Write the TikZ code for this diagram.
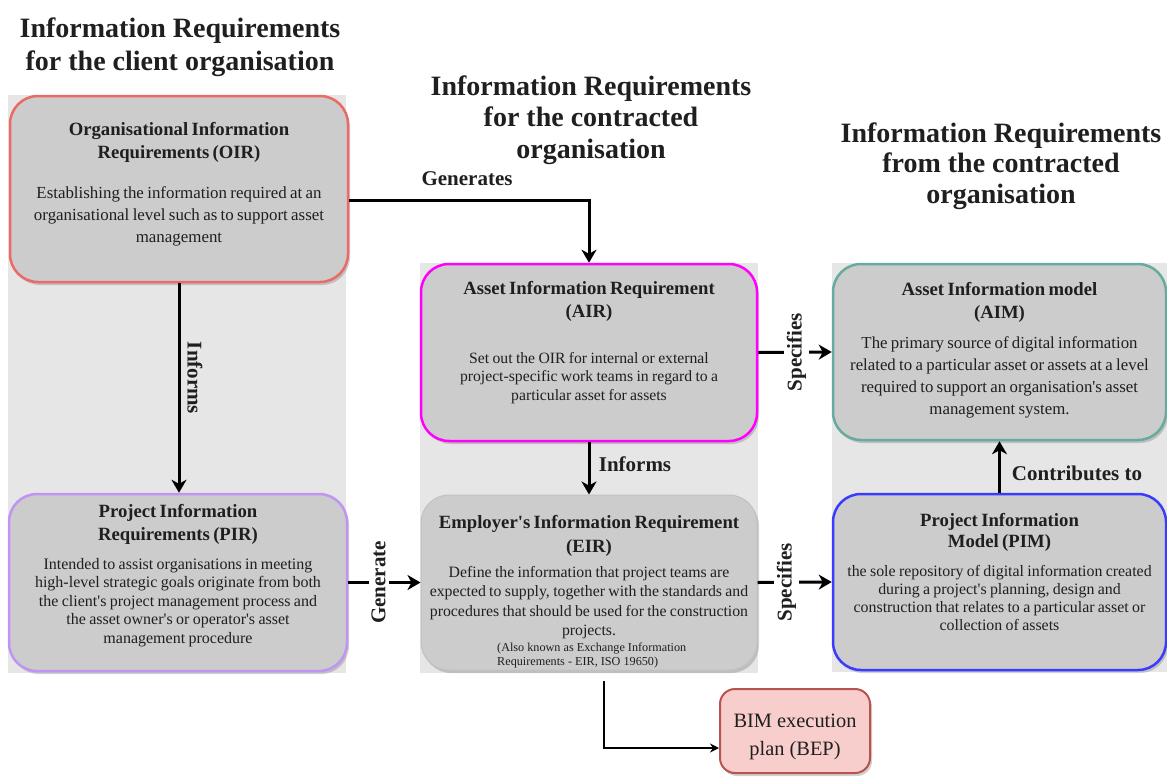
\documentclass[tikz,border=0pt]{standalone}
\usepackage{fontspec}
\setmainfont{Liberation Serif}
\usetikzlibrary{arrows.meta,shadows}

\definecolor{colbg}{HTML}{E6E6E6}
\definecolor{boxfill}{HTML}{CCCCCC}
\definecolor{oirline}{HTML}{EA6B66}
\definecolor{pirline}{HTML}{BF94F2}
\definecolor{airline}{HTML}{FF00FF}
\definecolor{aimline}{HTML}{67AB9F}
\definecolor{pimline}{HTML}{3B3BFF}
\definecolor{eirline}{HTML}{C2C2C2}
\definecolor{bepfill}{HTML}{F8CECC}
\definecolor{bepline}{HTML}{B85450}
\definecolor{ink}{HTML}{1F1F1F}

\newcommand\aps{\textquotesingle}
\newcommand\boxtitle[2]{{\fontsize{18.7}{#1}\selectfont\bfseries #2\par}}
\newcommand\boxbody[4]{\par\vspace{#1}{\fontsize{#2}{#3}\selectfont #4\par}}

\tikzset{
  infobox/.style={rectangle, rounded corners=28pt, fill=boxfill, line width=2.5pt,
    inner sep=0pt,
    drop shadow={shadow xshift=2pt, shadow yshift=-3pt, opacity=0.3, fill=black!60}},
  boxtext/.style={anchor=north, inner sep=0pt, text width=#1, align=center, text=ink},
  heading/.style={anchor=north, inner sep=0pt, align=center, text=ink,
    font=\fontsize{28}{#1}\selectfont\bfseries},
  flow/.style={line width=3pt, -{Stealth[length=13pt,width=15pt,inset=4pt]}},
  thinflow/.style={line width=1.5pt, -{Stealth[length=9pt,width=9pt,inset=3pt]}},
  edgelabel/.style={font=\fontsize{21}{24}\selectfont\bfseries, text=ink, inner sep=0pt},
  gaplabel/.style={font=\fontsize{21}{24}\selectfont\bfseries, text=ink,
    fill=white, inner sep=3pt, rotate=90},
}

\begin{document}
\begin{tikzpicture}[x=1pt, y=-1pt]
\useasboundingbox (0,0) rectangle (1167,777);

% column backgrounds
\fill[colbg] (8,95) rectangle (346,673);
\fill[colbg] (420,263) rectangle (758,673);
\fill[colbg] (832,263) rectangle (1167,672);

% column headings
\node[heading=33] (hclient) at (180,17.5)
  {Information Requirements\\for the client organisation};
\node[heading=31.5] (hcontracted) at (591,75.5)
  {Information Requirements\\for the contracted\\organisation};
\node[heading=30.5] (hfrom) at (1001,122.5)
  {Information Requirements\\from the contracted\\organisation};

% boxes
\node[infobox, draw=oirline, minimum width=338pt, minimum height=186pt] (oir) at (179,189) {};
\node[infobox, draw=pirline, minimum width=338pt, minimum height=177pt] (pir) at (178,582.5) {};
\node[infobox, draw=airline, minimum width=336pt, minimum height=177pt] (air) at (589,352.5) {};
\node[infobox, draw=eirline, line width=1pt, minimum width=336pt, minimum height=175pt] (eir) at (589,582.5) {};
\node[infobox, draw=aimline, minimum width=333pt, minimum height=176pt] (aim) at (999.5,352) {};
\node[infobox, draw=pimline, minimum width=333pt, minimum height=176pt] (pim) at (999.5,582) {};
\node[rectangle, rounded corners=15pt, fill=bepfill, draw=bepline, line width=2pt,
  minimum width=150pt, minimum height=84pt,
  drop shadow={shadow xshift=2pt, shadow yshift=-3pt, opacity=0.3, fill=black!60}]
  (bep) at (795,731) {};
\node[align=center, text=ink, inner sep=0pt, font=\fontsize{20.4}{28}\selectfont]
  (beptext) at (795,737) {BIM execution\\plan (BEP)};

% box texts
\node[boxtext=336pt] (oirtext) at (179,122) {%
  \boxtitle{23}{Organisational Information\\Requirements (OIR)}%
  \boxbody{18pt}{16.9}{22}{Establishing the information required at an\\organisational level such as to support asset\\management}};
\node[boxtext=336pt] (pirtext) at (178,504) {%
  \boxtitle{23}{Project Information\\Requirements (PIR)}%
  \boxbody{10.5pt}{16}{18.5}{Intended to assist organisations in meeting\\high-level strategic goals originate from both\\the client\aps s project management process and\\the asset owner\aps s or operator\aps s asset\\management procedure}};
\node[boxtext=334pt] (airtext) at (589,281) {%
  \boxtitle{23}{Asset Information Requirement\\(AIR)}%
  \boxbody{27.5pt}{15.7}{18.5}{Set out the OIR for internal or external\\project-specific work teams in regard to a\\particular asset for assets}};
\node[boxtext=334pt] (eirtext) at (589,515) {%
  \boxtitle{24}{Employer\aps s Information Requirement\\(EIR)}%
  \boxbody{5.5pt}{15.8}{19.5}{Define the information that project teams are\\expected to supply, together with the standards and\\procedures that should be used for the construction\\projects.}};
\node[anchor=north west, inner sep=0pt, align=left, text=ink,
  font=\fontsize{12.2}{14}\selectfont] (eirnote) at (497,643)
  {(Also known as Exchange Information\\Requirements - EIR, ISO 19650)};
\node[boxtext=330pt] (aimtext) at (999.5,282) {%
  \boxtitle{23}{Asset Information model\\(AIM)}%
  \boxbody{8pt}{16.8}{22}{The primary source of digital information\\related to a particular asset or assets at a level\\required to support an organisation\aps s asset\\management system.}};
\node[boxtext=330pt] (pimtext) at (999.5,513) {%
  \boxtitle{21}{Project Information\\Model (PIM)}%
  \boxbody{11pt}{15.9}{18}{the sole repository of digital information created\\during a project\aps s planning, design and\\construction that relates to a particular asset or\\collection of assets}};

% connectors
\draw[flow] ([yshift=-11pt]oir.east) -| (air.north);
\node[edgelabel, anchor=base] (lgenerates) at (467,185) {Generates};

\draw[flow] (oir.south) -- (oir.south |- pir.north);
\node[edgelabel, rotate=-90] (linforms1) at (195,378) {Informs};

\draw[flow] (pir.east) -- node[gaplabel, pos=0.42] (lgenerate) {Generate} (eir.west);
\draw[flow] (air.east) -- node[gaplabel, pos=0.52] (lspecifies1) {Specifies} (aim.west);
\draw[flow] (eir.east) -- node[gaplabel, pos=0.39] (lspecifies2) {Specifies} (pim.west);

\draw[flow] (air.south) -- (eir.north);
\node[edgelabel, anchor=base] (linforms2) at (635,471) {Informs};

\draw[flow] (pim.north) -- (aim.south);
\node[edgelabel, anchor=base] (lcontrib) at (1077,480) {Contributes to};

\coordinate (eirout) at (604,681);
\draw[thinflow] (eirout) |- ([yshift=-17pt]bep.west);
\end{tikzpicture}
\end{document}
